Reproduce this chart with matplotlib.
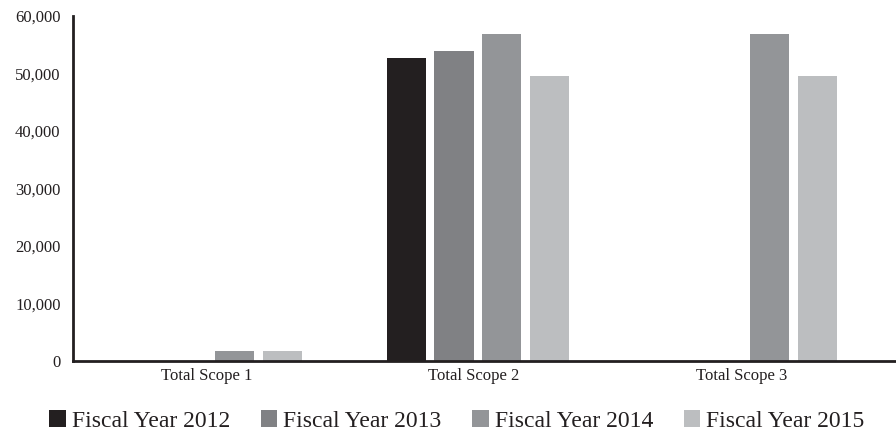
import matplotlib.pyplot as plt
import numpy as np
from matplotlib.ticker import FuncFormatter

categories = ["Total Scope 1", "Total Scope 2", "Total Scope 3"]
series_names = ["Fiscal Year 2012", "Fiscal Year 2013", "Fiscal Year 2014", "Fiscal Year 2015"]
fy2012 = [0, 52700, 0]
fy2013 = [0, 53900, 0]
fy2014 = [1750, 56800, 56800]
fy2015 = [1750, 49600, 49600]
colors = ["#231f20", "#808184", "#939598", "#bcbec0"]

plt.rcParams['font.family'] = ['Liberation Serif', 'DejaVu Serif']

fig = plt.figure(figsize=(8.96, 4.41), dpi=100)
ax = fig.add_axes([73 / 896, 1 - 361 / 441, (896 - 73) / 896, (361 - 16) / 441])

x = np.arange(len(categories))
width = 0.146
step = 0.179
all_series = [fy2012, fy2013, fy2014, fy2015]
for i, (vals, name, c) in enumerate(zip(all_series, series_names, colors)):
    ax.bar(x + (i - 1.5) * step, vals, width=width, color=c, label=name)

ax.set_xlim(-0.514, 2.563)
ax.set_ylim(0, 60000)
ax.set_yticks(range(0, 60001, 10000))
ax.yaxis.set_major_formatter(FuncFormatter(lambda v, p: f"{int(v):,}"))
ax.set_xticks(x - 0.015)
ax.set_xticklabels(categories, fontsize=12.5)
ax.tick_params(axis='both', length=0, labelsize=12, colors='#231f20')
ax.tick_params(axis='y', pad=9)
ax.tick_params(axis='x', pad=5)

for s in ['top', 'right']:
    ax.spines[s].set_visible(False)
for s in ['left', 'bottom']:
    ax.spines[s].set_linewidth(2)
    ax.spines[s].set_color('#231f20')

fig.legend(loc='center', bbox_to_anchor=(0.51, 1 - 421 / 441), ncol=4, frameon=False,
           fontsize=17, handlelength=0.7, handleheight=0.7, handletextpad=0.25,
           columnspacing=1.3, labelcolor='#231f20')

fig.savefig("out.png", dpi=100)
